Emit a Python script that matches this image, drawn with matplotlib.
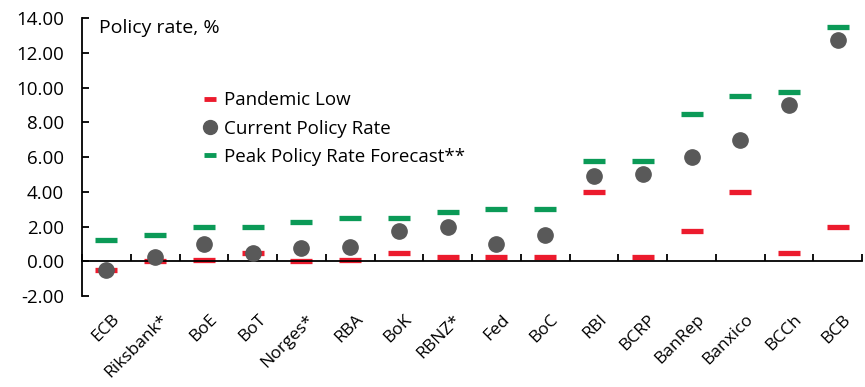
import matplotlib
matplotlib.use("Agg")
import matplotlib.pyplot as plt
import matplotlib.transforms as mtransforms
from matplotlib.lines import Line2D
import numpy as np

banks = ["ECB", "Riksbank*", "BoE", "BoT", "Norges*", "RBA", "BoK", "RBNZ*",
         "Fed", "BoC", "RBI", "BCRP", "BanRep", "Banxico", "BCCh", "BCB"]
pandemic_low = [-0.5, 0.0, 0.1, 0.5, 0.0, 0.1, 0.5, 0.25,
                0.25, 0.25, 4.0, 0.25, 1.75, 4.0, 0.5, 2.0]
current_rate = [-0.5, 0.25, 1.0, 0.5, 0.75, 0.85, 1.75, 2.0,
                1.0, 1.5, 4.9, 5.0, 6.0, 7.0, 9.0, 12.75]
peak_forecast = [1.25, 1.5, 2.0, 2.0, 2.25, 2.5, 2.5, 2.85,
                 3.0, 3.0, 5.75, 5.75, 8.5, 9.5, 9.75, 13.5]
yticks = [-2, 0, 2, 4, 6, 8, 10, 12, 14]

RED = "#EC1B2D"
GREEN = "#0B9A57"
GREY = "#595959"
FS = 13.5

plt.rcParams["font.family"] = ["Open Sans", "DejaVu Sans"]

fig = plt.figure(figsize=(8.65, 3.87), dpi=100)
ax = fig.add_axes([0.0948, 0.235, 0.902, 0.7185])

x = np.arange(len(banks))
ax.plot(x, pandemic_low, ls="none", marker="_", ms=16.5, mew=3.8, color=RED, zorder=2)
ax.plot(x, peak_forecast, ls="none", marker="_", ms=16.5, mew=3.8, color=GREEN, zorder=2)
ax.plot(x, current_rate, ls="none", marker="o", ms=11, color=GREY, zorder=3)

ax.set_xlim(-0.5, len(banks) - 0.5)
ax.set_ylim(-2, 14)
ax.set_yticks(yticks)
ax.set_yticklabels([f"{v:.2f}" for v in yticks], fontsize=FS)

for s in ["top", "right"]:
    ax.spines[s].set_visible(False)
ax.spines["bottom"].set_position(("data", 0))
ax.spines["left"].set_linewidth(1.3)
ax.spines["bottom"].set_linewidth(1.3)

ax.set_xticks(np.arange(len(banks) + 1) - 0.5)
ax.set_xticklabels([])
ax.tick_params(axis="x", direction="in", length=5, width=1.3)
ax.tick_params(axis="y", direction="in", length=5, width=1.3, pad=13)

trans = mtransforms.blended_transform_factory(ax.transData, ax.transAxes)
for i, name in enumerate(banks):
    ax.text(i + 0.1, -0.055, name, transform=trans, rotation=45, ha="right", va="top",
            rotation_mode="anchor", fontsize=12.5)

ax.text(0.022, 0.995, "Policy rate, %", transform=ax.transAxes, fontsize=FS + 0.5,
        ha="left", va="top")

handles = [
    Line2D([], [], ls="none", marker="_", ms=9, mew=3.5, color=RED),
    Line2D([], [], ls="none", marker="o", ms=10, color=GREY),
    Line2D([], [], ls="none", marker="_", ms=9, mew=3.5, color=GREEN),
]
ax.legend(handles, ["Pandemic Low", "Current Policy Rate", "Peak Policy Rate Forecast**"],
          loc="upper left", bbox_to_anchor=(0.143, 0.77), frameon=False, fontsize=FS,
          handlelength=0.8, handletextpad=0.3, labelspacing=0.55, borderpad=0)

fig.savefig("out.png", dpi=100, facecolor="white")
